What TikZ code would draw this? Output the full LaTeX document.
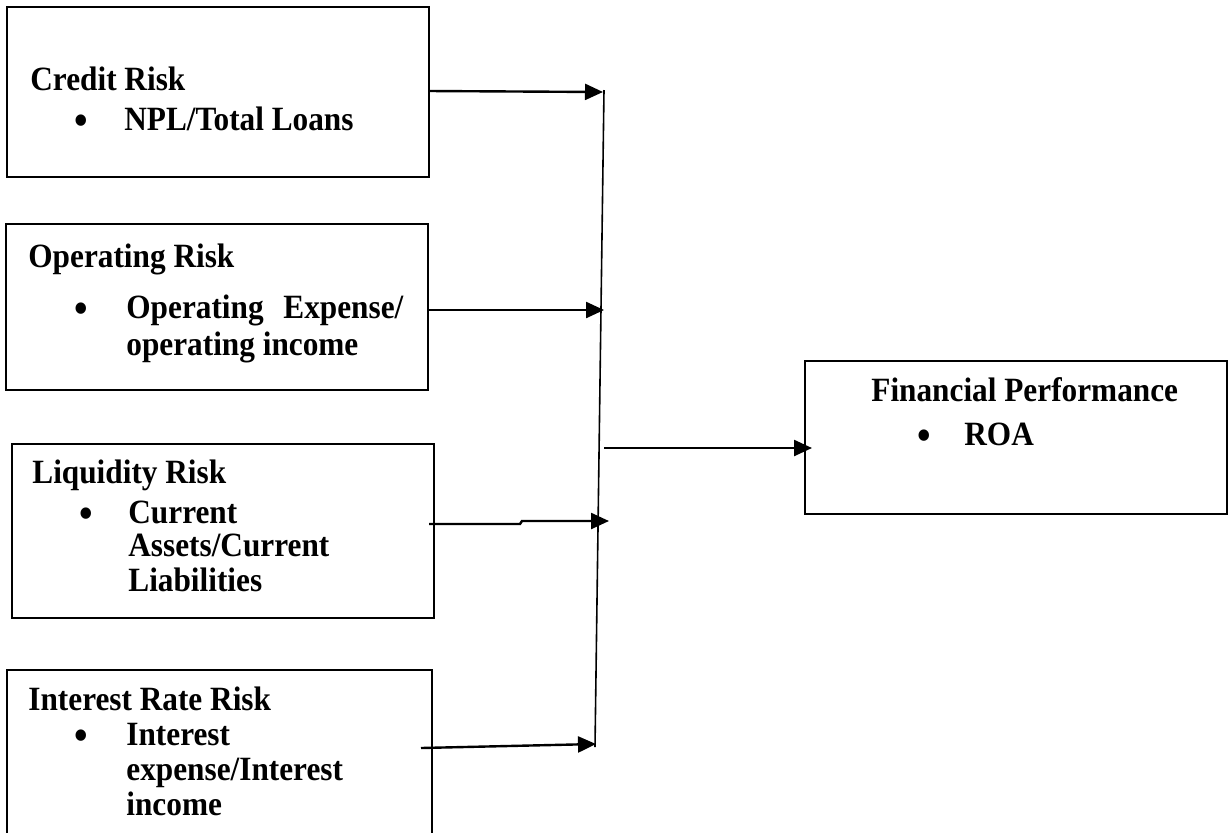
\documentclass[tikz,border=0pt]{standalone}
\usepackage{fontspec}
\setmainfont{Liberation Serif}[FakeStretch=0.92]
\usetikzlibrary{arrows.meta}
\tikzset{
  box/.style={draw, line width=1pt, inner sep=0pt, fill=none},
  txt/.style={anchor=base west, inner sep=0pt, font=\fontsize{17}{18}\selectfont\bfseries},
  bul/.style={anchor=base, inner sep=0pt, yshift=-2pt, font=\fontsize{21}{21}\selectfont\bfseries},
  arr/.style={line width=1.2pt, -{Triangle[length=9pt,width=8pt]}},
  vline/.style={line width=0.8pt}
}
\begin{document}
\begin{tikzpicture}[x=0.5pt,y=-0.5pt]
\useasboundingbox (0,0) rectangle (1232,832);
\clip (0,0) rectangle (1232,832);
% boxes
\draw[box] (7,7) rectangle (429,177) node[midway] (credit) {};
\draw[box] (6,224) rectangle (428,390) node[midway] (oper) {};
\draw[box] (12,444) rectangle (434,618) node[midway] (liq) {};
\draw[box] (7,670) rectangle (432,850) node[midway] (intr) {};
\draw[box] (805,361) rectangle (1227,514) node[midway] (fp) {};
% texts
\node[txt] (c1) at (30,90) {Credit Risk};
\node[bul] (cb) at (81,130) {\textbullet};
\node[txt] (c2) at (124,130) {NPL/Total Loans};
\node[txt] (o1) at (28,267) {Operating Risk};
\node[bul] (ob) at (81,318) {\textbullet};
\node[txt] (o2) at (126,318) {\makebox[138.5pt][s]{Operating Expense/}};
\node[txt] (o3) at (126,355) {operating income};
\node[txt] (l1) at (32,483) {Liquidity Risk};
\node[bul] (lb) at (86,523) {\textbullet};
\node[txt] (l2) at (128,523) {Current};
\node[txt] (l3) at (128,556) {Assets/Current};
\node[txt] (l4) at (128,591) {Liabilities};
\node[txt] (i1) at (28,710) {Interest Rate Risk};
\node[bul] (ib) at (81,745) {\textbullet};
\node[txt] (i2) at (126,745) {Interest};
\node[txt] (i3) at (126,780) {expense/Interest};
\node[txt] (i4) at (126,815) {income};
\node[txt] (f1) at (871,401) {Financial Performance};
\node[bul] (fb) at (924,445) {\textbullet};
\node[txt] (f2) at (964,445) {ROA};
% vertical collector line
\coordinate (vtop) at (604,90);
\coordinate (vbot) at (595,747);
\draw[vline] (vtop) -- (vbot);
% arrow end points
\coordinate (cs) at (429,91);
\coordinate (ce) at (603,92);
\coordinate (os) at (428,310);
\coordinate (oe) at (604,310);
\coordinate (ls) at (429,524);
\coordinate (lk1) at (520,524);
\coordinate (lk2) at (522,521);
\coordinate (le) at (609,521);
\coordinate (is) at (421,748);
\coordinate (ie) at (596,744);
\coordinate (fs) at (604,448);
\coordinate (fe) at (812,448);
\draw[arr] (cs) -- (ce);
\draw[arr] (os) -- (oe);
\draw[arr] (ls) -- (lk1) -- (lk2) -- (le);
\draw[arr] (is) -- (ie);
\draw[arr] (fs) -- (fe);
\end{tikzpicture}
\end{document}
